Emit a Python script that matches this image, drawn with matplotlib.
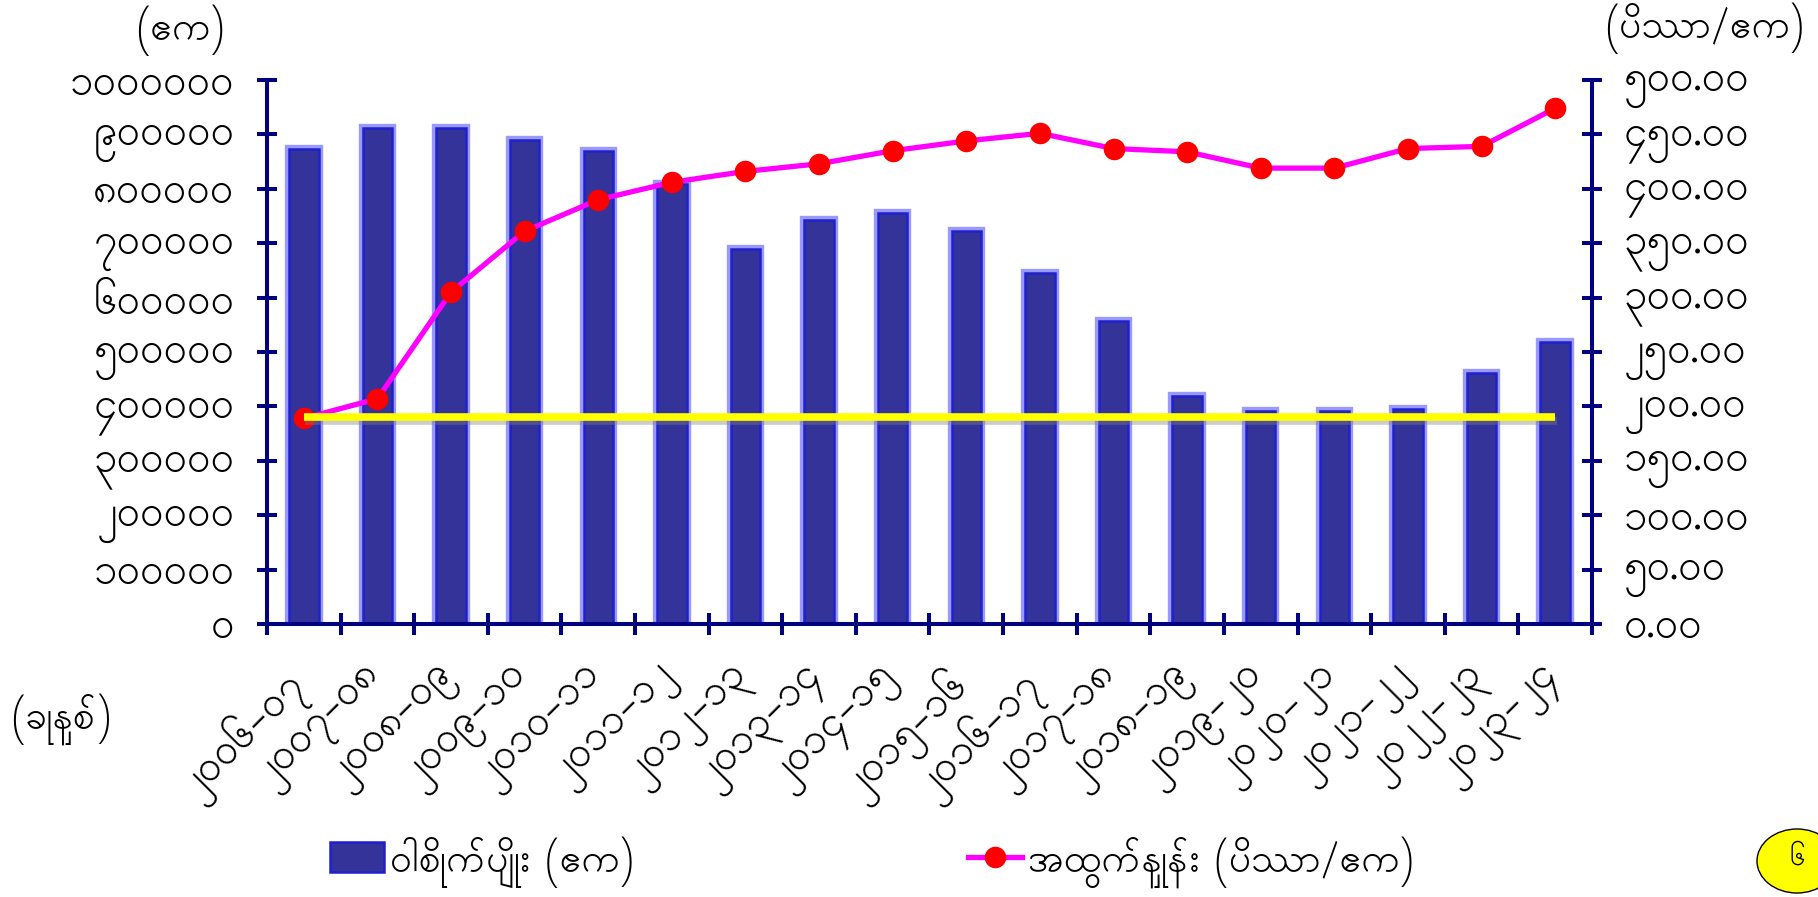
import numpy as np
import matplotlib
matplotlib.use("Agg")
import matplotlib.pyplot as plt
import matplotlib.patheffects as pe
from matplotlib.patches import Ellipse, Patch
from matplotlib.lines import Line2D
from matplotlib.transforms import ScaledTranslation

# data
years = ["၂၀၀၆-၀၇", "၂၀၀၇-၀၈", "၂၀၀၈-၀၉", "၂၀၀၉-၁၀", "၂၀၁၀-၁၁", "၂၀၁၁-၁၂",
         "၂၀၁၂-၁၃", "၂၀၁၃-၁၄", "၂၀၁၄-၁၅", "၂၀၁၅-၁၆", "၂၀၁၆-၁၇", "၂၀၁၇-၁၈",
         "၂၀၁၈-၁၉", "၂၀၁၉-၂၀", "၂၀၂၀-၂၁", "၂၀၂၁-၂၂", "၂၀၂၂-၂၃", "၂၀၂၃-၂၄"]
area = [873000, 912000, 911000, 890000, 870000, 809000, 690000, 742000, 755000,
        722000, 646000, 557000, 419000, 392000, 392000, 396000, 461000, 518000]
yields = [189, 207, 305, 361, 390, 406, 416, 423, 435,
          444, 451, 437, 434, 419, 419, 437, 439, 474]
baseline = 190

left_ticks = [0, 100000, 200000, 300000, 400000, 500000, 600000, 700000, 800000, 900000, 1000000]
left_labels = ["၀", "၁၀၀၀၀၀", "၂၀၀၀၀၀", "၃၀၀၀၀၀", "၄၀၀၀၀၀", "၅၀၀၀၀၀",
               "၆၀၀၀၀၀", "၇၀၀၀၀၀", "၈၀၀၀၀၀", "၉၀၀၀၀၀", "၁၀၀၀၀၀၀"]
right_ticks = [0, 50, 100, 150, 200, 250, 300, 350, 400, 450, 500]
right_labels = ["၀.၀၀", "၅၀.၀၀", "၁၀၀.၀၀", "၁၅၀.၀၀", "၂၀၀.၀၀", "၂၅၀.၀၀",
                "၃၀၀.၀၀", "၃၅၀.၀၀", "၄၀၀.၀၀", "၄၅၀.၀၀", "၅၀၀.၀၀"]

label_area = "ဝါစိုက်ပျိုး (ဧက)"
label_yield = "အထွက်နှုန်း (ပိဿာ/ဧက)"

plt.rcParams['font.family'] = ["Padauk", "Noto Sans Myanmar", "DejaVu Sans"]

navy = "#000080"
W, H = 1818, 897
fs = 28
tick_fs = 30

fig = plt.figure(figsize=(18.18, 8.97), dpi=100)
ax = fig.add_axes([267 / W, 1 - 624 / H, (1592 - 267) / W, (624 - 80) / H])
x = np.arange(len(years))

ax.bar(x, area, width=0.40, color="#333399", edgecolor="#2020cc", linewidth=1.8,
       path_effects=[pe.Stroke(linewidth=6, foreground="#9999ff"), pe.Normal()], zorder=2)
ax.set_xlim(-0.5, len(years) - 0.5)
ax.set_ylim(0, 1000000)

ax2 = ax.twinx()
ax2.plot(x, yields, color="#ff00ff", lw=3.8, marker="o", ms=14.5,
         mfc="red", mec="red", zorder=3)
ax2.hlines(baseline, x[0], x[-1], color="#ffff00", lw=5.5, zorder=4,
           path_effects=[pe.SimpleLineShadow(offset=(1, -3), shadow_color="gray", alpha=0.4),
                         pe.Normal()])
ax2.set_ylim(0, 500)

for s in ["top", "right"]:
    ax.spines[s].set_visible(False)
for s in ["top", "left", "bottom"]:
    ax2.spines[s].set_visible(False)
for s in [ax.spines["left"], ax.spines["bottom"], ax2.spines["right"]]:
    s.set_color(navy)
    s.set_linewidth(2.9)

ax.set_yticks(left_ticks)
ax.set_yticklabels(left_labels)
ax.tick_params(axis="y", direction="inout", length=15, width=2.9, color=navy,
               labelsize=tick_fs, pad=16)
ax2.set_yticks(right_ticks)
ax2.set_yticklabels(right_labels)
ax2.tick_params(axis="y", direction="inout", length=15, width=2.9, color=navy,
                labelsize=tick_fs, pad=15)

ax.set_xticks(np.arange(len(years) + 1) - 0.5)
ax.set_xticklabels([])
ax.tick_params(axis="x", which="major", direction="inout", length=16.5, width=2.9, color=navy)
ax.set_xticks(x, minor=True)
ax.set_xticklabels(years, minor=True, rotation=45, ha="right", va="top")
ax.tick_params(axis="x", which="minor", length=0, labelsize=tick_fs, pad=26)
shift = ScaledTranslation(15 / 100, 0, fig.dpi_scale_trans)
for lbl in ax.get_xticklabels(minor=True):
    lbl.set_transform(lbl.get_transform() + shift)

fig.text(180 / W, 1 - 30 / H, "(ဧက)", fontsize=fs, ha="center", va="center")
fig.text(1704 / W, 1 - 28 / H, "(ပိဿာ/ဧက)", fontsize=fs, ha="center", va="center")
fig.text(61 / W, 1 - 719 / H, "(ခုနှစ်)", fontsize=fs, ha="center", va="center")

h1 = Patch(facecolor="#333399", edgecolor="#2020cc", linewidth=1.8)
h2 = Line2D([], [], color="#ff00ff", lw=3.8, marker="o", ms=14.5, mfc="red", mec="red")
fig.legend([h1], [label_area], loc="center left", bbox_to_anchor=(330 / W, 1 - 862 / H),
           frameon=False, fontsize=fs, handlelength=1.4, handleheight=0.8,
           handletextpad=0.15, borderpad=0, borderaxespad=0)
fig.legend([h2], [label_yield], loc="center left", bbox_to_anchor=(968 / W, 1 - 862 / H),
           frameon=False, fontsize=fs, handlelength=1.4, handletextpad=0.15,
           borderpad=0, borderaxespad=0)

fig.patches.append(Ellipse((1797 / W, 1 - 861 / H), 80 / W, 64 / H, transform=fig.transFigure,
                           facecolor="yellow", edgecolor="black", lw=1))
fig.text(1797 / W, 1 - 857 / H, "၆", fontsize=20, ha="center", va="center")

fig.savefig("out.png", dpi=100)
